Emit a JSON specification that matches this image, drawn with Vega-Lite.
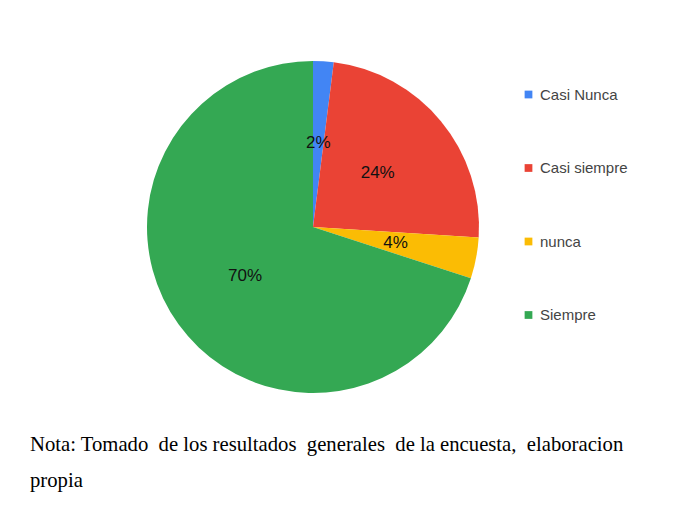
{
  "$schema": "https://vega.github.io/schema/vega-lite/v6.json",
  "width": 566,
  "height": 414,
  "autosize": "none",
  "padding": {"left": 30, "top": 20, "right": 85, "bottom": 72},
  "background": "white",
  "data": {
    "values": [
      {"categoria": "Casi Nunca", "valor": 2, "orden": 1},
      {"categoria": "Casi siempre", "valor": 24, "orden": 2},
      {"categoria": "nunca", "valor": 4, "orden": 3},
      {"categoria": "Siempre", "valor": 70, "orden": 4}
    ]
  },
  "transform": [{"calculate": "datum.valor + '%'", "as": "etiqueta"}],
  "title": {
    "text": ["Nota: Tomado \u00a0de los resultados \u00a0generales \u00a0de la encuesta, \u00a0elaboracion", "propia"],
    "orient": "bottom",
    "anchor": "start",
    "frame": "group",
    "font": "Liberation Serif",
    "fontSize": 20.7,
    "fontWeight": "normal",
    "color": "black",
    "lineHeight": 36,
    "offset": 1
  },
  "encoding": {
    "theta": {"field": "valor", "type": "quantitative", "stack": true},
    "order": {"field": "orden", "type": "quantitative"}
  },
  "layer": [
    {
      "mark": {"type": "arc", "outerRadius": 166},
      "encoding": {
        "color": {
          "field": "categoria",
          "type": "nominal",
          "scale": {
            "domain": ["Casi Nunca", "Casi siempre", "nunca", "Siempre"],
            "range": ["#4285F4", "#EA4335", "#FBBC04", "#34A853"]
          },
          "legend": {
            "title": null,
            "orient": "none",
            "legendX": 491,
            "legendY": 67,
            "symbolType": "square",
            "symbolSize": 60,
            "symbolStrokeWidth": 0,
            "labelFont": "Liberation Sans",
            "labelFontSize": 15,
            "labelColor": "#444444",
            "rowPadding": 57.5,
            "labelOffset": 4
          }
        }
      }
    },
    {
      "mark": {"type": "text", "radius": 84, "font": "Liberation Sans", "fontSize": 17, "color": "#111111"},
      "encoding": {
        "text": {"field": "etiqueta", "type": "nominal"}
      }
    }
  ]
}
